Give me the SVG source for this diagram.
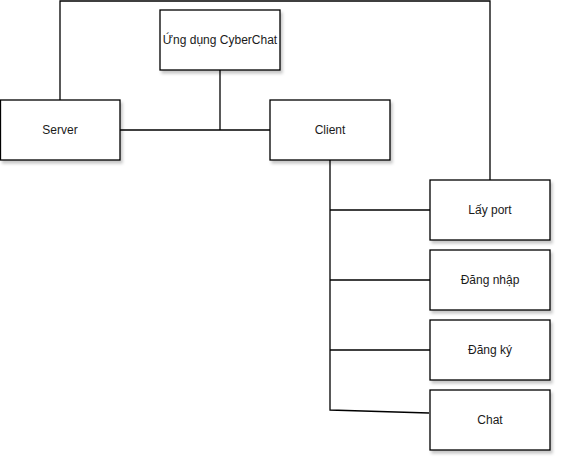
<svg xmlns="http://www.w3.org/2000/svg" width="562" height="462" viewBox="0 0 562 462">
<defs>
<filter id="sh" x="-10%" y="-10%" width="130%" height="140%">
<feDropShadow dx="2" dy="3" stdDeviation="1.5" flood-color="#000" flood-opacity="0.22"/>
</filter>
<style>
.box{fill:#fff;stroke:#000;stroke-width:1.3;filter:url(#sh)}
.lbl{font-family:"Liberation Sans",Arial,sans-serif;font-size:12px;fill:#1a1a1a;text-anchor:middle;dominant-baseline:central}
.edge{fill:none;stroke:#000;stroke-width:1.3}
</style>
</defs>
<rect width="562" height="462" fill="#fff"/>
<g id="connectors">
<polyline class="edge" points="60,100 60,1 490,1 490,180"/>
<line class="edge" x1="120" y1="130" x2="270" y2="130"/>
<line class="edge" x1="220" y1="70" x2="220" y2="130"/>
<polyline class="edge" points="330,160 330,410 429,413"/>
<line class="edge" x1="330" y1="210" x2="430" y2="210"/>
<line class="edge" x1="330" y1="280" x2="430" y2="280"/>
<line class="edge" x1="330" y1="350" x2="430" y2="350"/>
</g>
<g id="node-app"><rect class="box" x="160" y="10" width="120" height="60"/><text class="lbl" x="220" y="40">Ứng dụng CyberChat</text></g>
<g id="node-server"><rect class="box" x="0.5" y="100" width="119.5" height="60"/><text class="lbl" x="60" y="130">Server</text></g>
<g id="node-client"><rect class="box" x="270" y="100" width="120" height="60"/><text class="lbl" x="330" y="130">Client</text></g>
<g id="node-port"><rect class="box" x="430" y="180" width="120" height="60"/><text class="lbl" x="490" y="210">Lấy port</text></g>
<g id="node-login"><rect class="box" x="430" y="250" width="120" height="60"/><text class="lbl" x="490" y="280">Đăng nhập</text></g>
<g id="node-register"><rect class="box" x="430" y="320" width="120" height="60"/><text class="lbl" x="490" y="350">Đăng ký</text></g>
<g id="node-chat"><rect class="box" x="430" y="390" width="120" height="60"/><text class="lbl" x="490" y="420">Chat</text></g>
</svg>
